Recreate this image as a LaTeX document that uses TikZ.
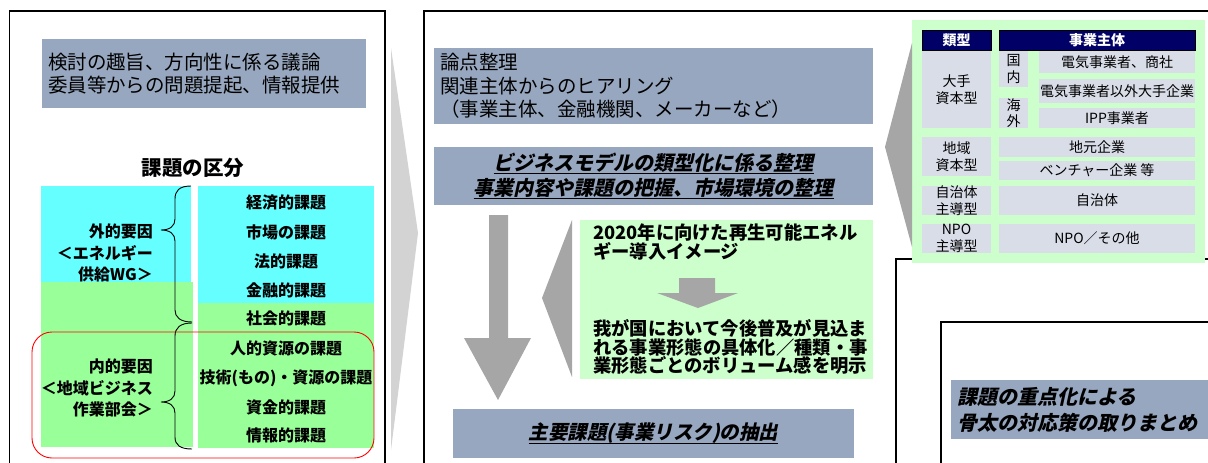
\documentclass[tikz,border=0pt]{standalone}
\usepackage{fontspec}
\newfontfamily\jp{Noto Sans CJK JP}
\newfontfamily\jpsl[FakeSlant=0.22]{Noto Sans CJK JP}
\definecolor{bgray}{RGB}{151,167,191}
\definecolor{cyanc}{RGB}{102,255,255}
\definecolor{greenc}{RGB}{153,255,153}
\definecolor{lgreen}{RGB}{204,255,204}
\definecolor{lav}{RGB}{217,221,232}
\definecolor{navyc}{RGB}{0,0,102}
\definecolor{chev}{RGB}{211,211,211}
\definecolor{arrg}{RGB}{166,166,166}
\newcommand\fs[2]{\fontsize{#1}{#2}\selectfont}
\newcommand\thul[1]{\setbox0\hbox{#1}\rlap{\raisebox{-4pt}{\rule{\wd0}{1.3pt}}}\box0}
\newcommand\boxat[7]{\node[#1, minimum width={#5-#3}, minimum height={#6-#4}, anchor=center] (#2) at ({(#3+#5)/2},{(#4+#6)/2}) {#7};}
\tikzset{
  panel/.style={draw=black, line width=1.1pt},
  bbox/.style={fill=bgray, draw=none, inner xsep=6pt, inner ysep=0pt, outer sep=0pt},
  cell/.style={fill=lav, draw=none, inner sep=0pt, outer sep=0pt, align=center, font=\jp\fs{14}{16.5}},
  head/.style={fill=navyc, draw=black, line width=0.6pt, inner sep=0pt, outer sep=0pt, text=white, font=\jp\bfseries\fs{14}{16}},
  rtxt/.style={font=\jp\bfseries\fs{16}{19}, inner sep=0pt},
  ltxt/.style={font=\jp\bfseries\fs{16}{21.5}, inner sep=0pt, align=right, anchor=east},
  gtxt/.style={font=\jp\bfseries\fs{18.3}{18.8}, inner sep=0pt, align=left, anchor=west},
  brace/.style={draw=black, line width=0.9pt},
  shape gray/.style={fill=arrg, draw=none}
}
\begin{document}
\begin{tikzpicture}[x=1pt,y=-1pt]
\useasboundingbox (0,0) rectangle (1208,463);
\begin{scope}
\clip (0,0) rectangle (1208,463);
% ---------------- left panel ----------------
\draw[panel] (9.5,480) -- (9.5,11) -- (385,11) -- (385,480);
\boxat{bbox, align=left, text width=312pt, font=\jp\fs{19.5}{23}}{lt}{42}{39}{366}{108}{検討の趣旨、方向性に係る議論\\委員等からの問題提起、情報提供}
\node[font=\jp\bfseries\fs{20.5}{22}, inner sep=0pt] (kubun) at (193,168) {課題の区分};
\fill[cyanc] (41,186) rectangle (191,282);
\fill[cyanc] (198,186) rectangle (374,303);
\fill[greenc] (41,282) rectangle (193,447);
\fill[greenc] (198,303) rectangle (374,448);
\node[rtxt] (r1) at (286,203) {経済的課題};
\node[rtxt] (r2) at (286,232) {市場の課題};
\node[rtxt] (r3) at (286,261) {法的課題};
\node[rtxt] (r4) at (286,290) {金融的課題};
\node[rtxt] (r5) at (286,318) {社会的課題};
\node[rtxt] (r6) at (286,348) {人的資源の課題};
\node[rtxt] (r7) at (286,378) {技術(もの)・資源の課題};
\node[rtxt] (r8) at (286,407) {資金的課題};
\node[rtxt] (r9) at (286,435) {情報的課題};
\node[ltxt] (outer) at (153,253) {外的要因\\＜エネルギー\\供給WG＞};
\node[ltxt] (inner) at (153,388) {内的要因\\＜地域ビジネス\\作業部会＞};
\draw[brace] (191,186) .. controls (179,186) and (175,191) .. (175,199) -- (175,219)
  .. controls (175,226) and (170,230) .. (161,230)
  .. controls (170,230) and (175,234) .. (175,241) -- (175,310)
  .. controls (175,317) and (180,322) .. (192,322);
\draw[brace] (192,323) .. controls (180,323) and (175,328) .. (175,336) -- (175,391)
  .. controls (175,398) and (170,402) .. (161,402)
  .. controls (170,402) and (175,406) .. (175,413) -- (175,437)
  .. controls (175,445) and (180,449) .. (192,449);
\draw[red, line width=0.9pt, rounded corners=20pt] (32,332) rectangle (374,458);
% chevron between panels
\fill[chev] (391,48) -- (418,233) -- (391,450) -- cycle;
% ---------------- middle panel ----------------
\draw[panel] (424,480) -- (424,11) -- (1215,11);
\boxat{bbox, align=left, text width=427pt, font=\jp\fs{19.5}{23.5}}{m1}{434}{48}{873}{124}{論点整理\\関連主体からのヒアリング\\（事業主体、金融機関、メーカーなど）}
\boxat{bbox, align=center, font=\jpsl\bfseries\fs{20}{25}}{m2}{434}{147}{873}{205}{\thul{ビジネスモデルの類型化に係る整理}\\\thul{事業内容や課題の把握、市場環境の整理}}
\fill[arrg] (489,215) -- (508,215) -- (508,338) -- (531,338) -- (498,400) -- (464,338) -- (489,338) -- cycle;
\fill[arrg] (572,220) -- (572,377) -- (542,298) -- cycle;
\fill[lgreen] (580,220) rectangle (873,379);
\node[gtxt] (g1) at (593,242) {2020年に向けた再生可能エネル\\ギー導入イメージ};
\fill[arrg] (679,278) -- (715,278) -- (715,293) -- (738,293) -- (698,308) -- (657,293) -- (679,293) -- cycle;
\node[gtxt] (g2) at (593,347) {我が国において今後普及が見込ま\\れる事業形態の具体化／種類・事\\業形態ごとのボリューム感を明示};
\boxat{bbox, align=center, font=\jpsl\bfseries\fs{19.5}{22}}{m3}{453}{409}{854}{458}{\thul{主要課題(事業リスク)の抽出}}
% ---------------- right panel ----------------
\filldraw[panel, fill=white] (896,259) rectangle (1220,480);
\draw[panel] (941,322) rectangle (1220,480);
\boxat{bbox, align=left, text width=252pt, font=\jpsl\bfseries\fs{20}{26}}{rb}{951}{380}{1215}{439}{課題の重点化による\\骨太の対応策の取りまとめ}
% table
\fill[lgreen] (912,20) rectangle (1205,263);
\fill[arrg] (912,43) -- (885,147) -- (912,247) -- cycle;
\boxat{head}{h1}{922}{30}{991}{50}{類型}
\boxat{head}{h2}{999}{30}{1195}{50}{事業主体}
\boxat{cell}{c1}{922}{51}{991}{128}{大手\\資本型}
\boxat{cell}{c2}{999}{51}{1028}{87}{国\\内}
\boxat{cell}{c3}{999}{98}{1028}{128}{海\\外}
\boxat{cell}{c4}{1039}{51}{1195}{73}{電気事業者、商社}
\boxat{cell}{c5}{1039}{79}{1195}{103}{電気事業者以外大手企業}
\boxat{cell}{c6}{1039}{108}{1195}{128}{IPP事業者}
\boxat{cell}{c7}{922}{137}{991}{176}{地域\\資本型}
\boxat{cell}{c8}{999}{137}{1195}{157}{地元企業}
\boxat{cell}{c9}{999}{161}{1195}{180}{ベンチャー企業 等}
\boxat{cell}{c10}{922}{186}{991}{215}{自治体\\主導型}
\boxat{cell}{c11}{999}{186}{1195}{215}{自治体}
\boxat{cell}{c12}{922}{224}{991}{253}{NPO\\主導型}
\boxat{cell}{c13}{999}{224}{1195}{253}{NPO／その他}
\end{scope}
\end{tikzpicture}
\end{document}
